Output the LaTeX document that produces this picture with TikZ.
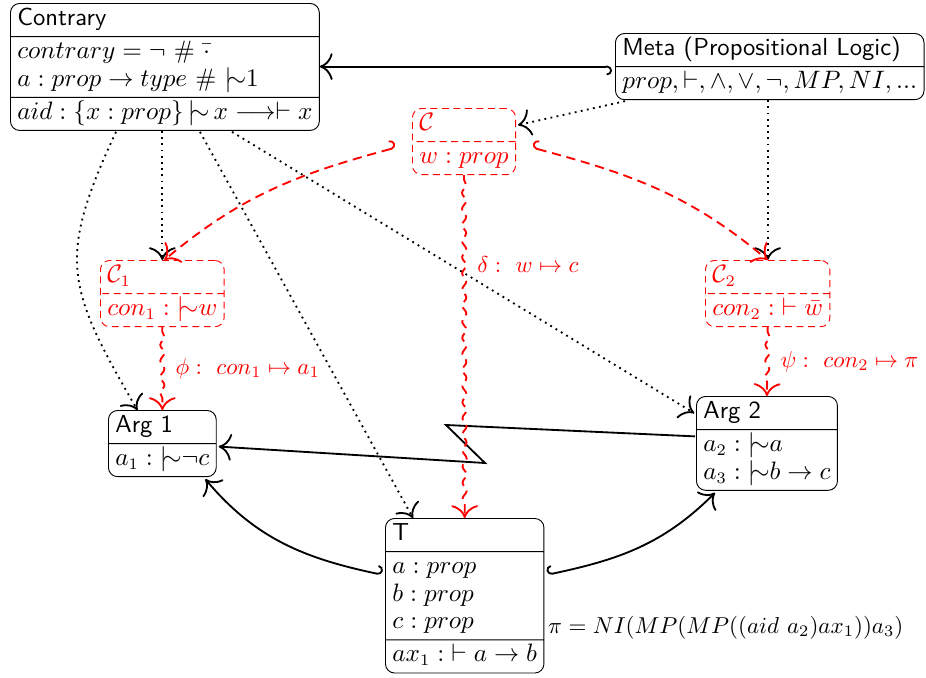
\documentclass[tikz,border=0pt]{standalone}
\usetikzlibrary{shapes.multipart,decorations.pathmorphing,decorations.markings,calc,arrows,arrows.meta}
\newcommand\nmd{\mathord{\mid\mkern-3.5mu\sim}}
\newcommand\celltab[1]{\begin{tabular}{@{}l@{}}#1\end{tabular}}
\begin{document}
\begin{tikzpicture}[x=0.4348pt,y=0.4348pt, >={Computer Modern Rightarrow[scale=1.65]},
  every node/.style={font=\fontsize{10.7pt}{12pt}\selectfont},
  box/.style={draw, thin, rectangle split, rectangle split part align=left,
    rounded corners=4pt, inner xsep=3pt, inner ysep=1pt, anchor=north west},
  rbox/.style={box, draw=red, text=red, dash pattern=on 3pt off 2pt},
  sarrow/.style={thick, ->},
  dotarrow/.style={thick, dash pattern=on 0.8pt off 1.9pt,
    postaction={decorate, decoration={markings, mark=at position 1 with {\arrow[solid]{>}}}}},
  rarrow/.style={thick, red, ->, dash pattern=on 4pt off 2.5pt},
  rsnake/.style={thick, red, ->, dash pattern=on 4pt off 2.5pt, decorate,
    decoration={snake, amplitude=0.9pt, segment length=7pt, pre length=2pt, post length=5pt}},
  smallfont/.style={font=\fontsize{10.45pt}{12pt}\selectfont},
  lbl/.style={smallfont, text=red, anchor=west}]
\useasboundingbox (0,0) rectangle (926,-677);

\node[box, rectangle split parts=3] (contrary) at (10,-3)
 {\celltab{\textsf{Contrary}}
  \nodepart{two}\celltab{$contrary = \neg\ \#\ \bar{\cdot}$\\ $a : prop \to type\ \#\ \nmd 1$}
  \nodepart{three}\celltab{$aid : \{x : prop\}\,\nmd\, x \longrightarrow\vdash x$}};

\node[box, rectangle split parts=2] (meta) at (615,-33)
 {\celltab{\textsf{Meta (Propositional Logic)}}
  \nodepart{two}\celltab{$prop, \vdash, \wedge, \vee, \neg, MP, NI, ...$}};

\node[rbox, rectangle split parts=2] (c) at (412,-108)
 {\celltab{$\mathcal{C}$}\nodepart{two}\celltab{$w : prop$}};

\node[rbox, rectangle split parts=2] (c1) at (100,-260)
 {\celltab{$\mathcal{C}_1$}\nodepart{two}\celltab{$con_1 : \nmd w$}};

\node[rbox, rectangle split parts=2] (c2) at (705,-260)
 {\celltab{$\mathcal{C}_2$}\nodepart{two}\celltab{$con_2 :\;\vdash \bar{w}$}};

\node[box, rectangle split parts=2] (arg1) at (108,-410)
 {\celltab{\textsf{Arg 1}}\nodepart{two}\celltab{$a_1 : \nmd\neg c$}};

\node[box, rectangle split parts=2] (arg2) at (696,-396)
 {\celltab{\textsf{Arg 2}}\nodepart{two}\celltab{$a_2 : \nmd a$\\ $a_3 : \nmd b \to c$}};

\node[box, rectangle split parts=3] (t) at (385,-518)
 {\celltab{\textsf{T}}\nodepart{two}\celltab{$a : prop$\\ $b : prop$\\ $c : prop$}
  \nodepart{three}\celltab{$ax_1 :\;\vdash a \to b$}};

\node[smallfont, anchor=west, inner sep=1pt] (pi) at ($(t.east)+(1,-32)$)
 {$\pi = NI(MP(MP((aid\ a_2) ax_1)) a_3)$};

% black solid
\draw[sarrow, right hook->] ($(meta.west)+(-3,0)$) -- (contrary.east |- meta.west);
\coordinate (z1) at (446,-425);
\coordinate (z2) at (485,-463);
\draw[sarrow] ($(arg2.west)+(-1,7)$) -- (z1) -- (z2) -- ($(arg1.east)+(2,-3)$);
\draw[sarrow, left hook->] ($(t.west)+(-3,21)$) to[out=168,in=-50] ($(arg1.south)+(43,-2)$);
\draw[sarrow, right hook->] ($(t.east)+(3,21)$) to[out=12,in=225] ($(arg2.south west)+(19,-2)$);

% dotted
\draw[dotarrow] ($(meta.south west)+(10,-1)$) -- ($(c.text east)+(2,0)$);
\draw[dotarrow] (meta.south -| c2.north) -- (c2.north);
\draw[dotarrow] (contrary.south -| c1.north) -- (c1.north);
\draw[dotarrow] ($(contrary.south west)+(106,-1)$) to[out=245,in=120,looseness=1.3] ($(arg1.north)+(-25,0)$);
\draw[dotarrow] ($(contrary.south west)+(190,-1)$) -- ($(t.north west)+(28,0)$);
\draw[dotarrow] ($(contrary.south west)+(222,-1)$) -- ($(arg2.text west)+(-2,0)$);

% red
\draw[rarrow, left hook->] ($(c.west)+(-16,-6)$) to[out=195,in=40] ($(c1.north)+(2,0)$);
\draw[rarrow, right hook->] ($(c.east)+(16,-6)$) to[out=-15,in=140] (c2.north);
\draw[rsnake] (c.south) -- node[lbl, pos=0.26, xshift=2pt] {$\delta :\ w \mapsto c$} (t.north);
\draw[rsnake] (c1.south) -- node[lbl, pos=0.5, xshift=2pt] {$\phi :\ con_1 \mapsto a_1$} (arg1.north);
\draw[rsnake] (c2.south) -- node[lbl, pos=0.5, xshift=2pt] {$\psi :\ con_2 \mapsto \pi$} (arg2.north);
\end{tikzpicture}
\end{document}
